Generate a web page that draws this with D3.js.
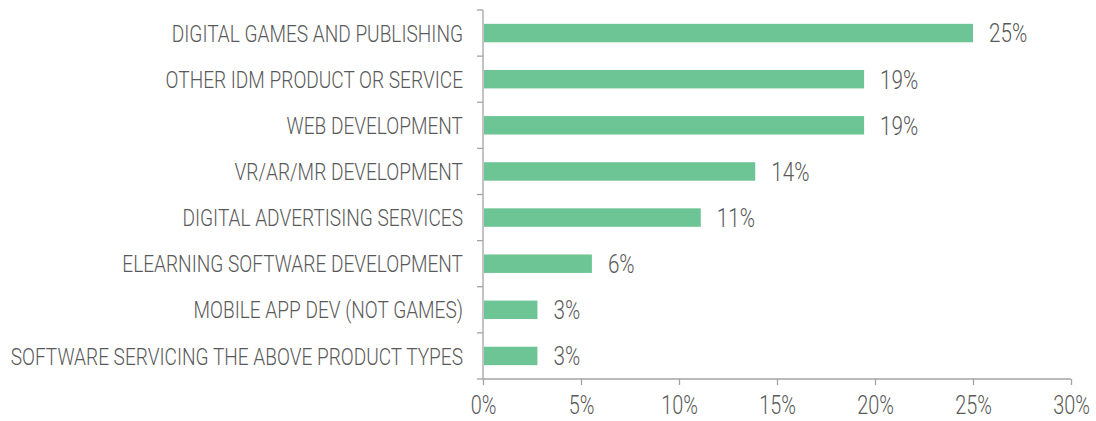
<!DOCTYPE html>
<html>
<head>
<meta charset="utf-8">
<script src="https://cdn.jsdelivr.net/npm/d3@7"></script>
<style>
  html, body { margin: 0; padding: 0; background: #fff; }
  svg text { font-family: "Roboto", "Liberation Sans", sans-serif; font-weight: 300; fill: #595959; }
</style>
</head>
<body>
<svg id="chart" width="1096" height="421"></svg>
<script>
// Share of respondents by primary product type (n = 36)
const categories = [
  "DIGITAL GAMES AND PUBLISHING",
  "OTHER IDM PRODUCT OR SERVICE",
  "WEB DEVELOPMENT",
  "VR/AR/MR DEVELOPMENT",
  "DIGITAL ADVERTISING SERVICES",
  "ELEARNING SOFTWARE DEVELOPMENT",
  "MOBILE APP DEV (NOT GAMES)",
  "SOFTWARE SERVICING THE ABOVE PRODUCT TYPES"
];
const shares = [9 / 36, 7 / 36, 7 / 36, 5 / 36, 4 / 36, 2 / 36, 1 / 36, 1 / 36];
const xTicks = [0, 0.05, 0.10, 0.15, 0.20, 0.25, 0.30];

const svg = d3.select("#chart");
const plot = { left: 483, right: 1071, top: 10, bottom: 379 };
const textSquash = 0.795; // horizontal compression for a condensed look
const labelSize = 24;
const numberSize = 26;
const tickSize = 25;

const x = d3.scaleLinear().domain([0, 0.30]).range([plot.left, plot.right]);
const y = d3.scaleBand().domain(categories).range([plot.top, plot.bottom])
  .paddingInner(0.6).paddingOuter(0.3);
const pct = d3.format(".0%");

const axisColor = "#a3a3a3";

// Bars
svg.append("g").selectAll("rect").data(categories).join("rect")
  .attr("x", x(0) + 1)
  .attr("y", d => y(d))
  .attr("width", (d, i) => x(shares[i]) - x(0) - 1)
  .attr("height", y.bandwidth())
  .attr("fill", "#6dc494");

// Value labels
svg.append("g").selectAll("text").data(categories).join("text")
  .attr("transform", (d, i) =>
    `translate(${x(shares[i]) + 16},${y(d) + y.bandwidth() / 2}) scale(${textSquash},1)`)
  .attr("dy", "0.36em")
  .attr("font-size", numberSize)
  .text((d, i) => pct(shares[i]));

// Category axis: tick marks sit on band boundaries
const yAxis = svg.append("g");
yAxis.append("line")
  .attr("x1", plot.left).attr("x2", plot.left)
  .attr("y1", plot.top).attr("y2", plot.bottom)
  .attr("stroke", axisColor).attr("stroke-width", 1.3);
const bounds = d3.range(categories.length + 1).map(i => plot.top + i * (plot.bottom - plot.top) / categories.length);
yAxis.selectAll("line.tick").data(bounds).join("line")
  .attr("class", "tick")
  .attr("x1", plot.left - 6).attr("x2", plot.left)
  .attr("y1", d => d).attr("y2", d => d)
  .attr("stroke", axisColor).attr("stroke-width", 1.3);
yAxis.selectAll("text").data(categories).join("text")
  .attr("transform", d => `translate(${plot.left - 20},${y(d) + y.bandwidth() / 2}) scale(${textSquash},1)`)
  .attr("dy", "0.36em")
  .attr("text-anchor", "end")
  .attr("font-size", labelSize)
  .text(d => d);

// Value axis
const xAxis = svg.append("g").attr("transform", `translate(0,${plot.bottom})`)
  .call(d3.axisBottom(x).tickValues(xTicks).tickFormat(pct).tickSize(6).tickPadding(11));
xAxis.attr("font-family", null).attr("font-size", null);
xAxis.select(".domain").attr("stroke", axisColor).attr("stroke-width", 1.3)
  .attr("d", `M${plot.left},0H${plot.right}`);
xAxis.selectAll(".tick line").attr("stroke", axisColor).attr("stroke-width", 1.3);
xAxis.selectAll(".tick text")
  .attr("font-size", tickSize)
  .attr("fill", "#595959")
  .attr("transform", `scale(${textSquash},1)`);
</script>
</body>
</html>
